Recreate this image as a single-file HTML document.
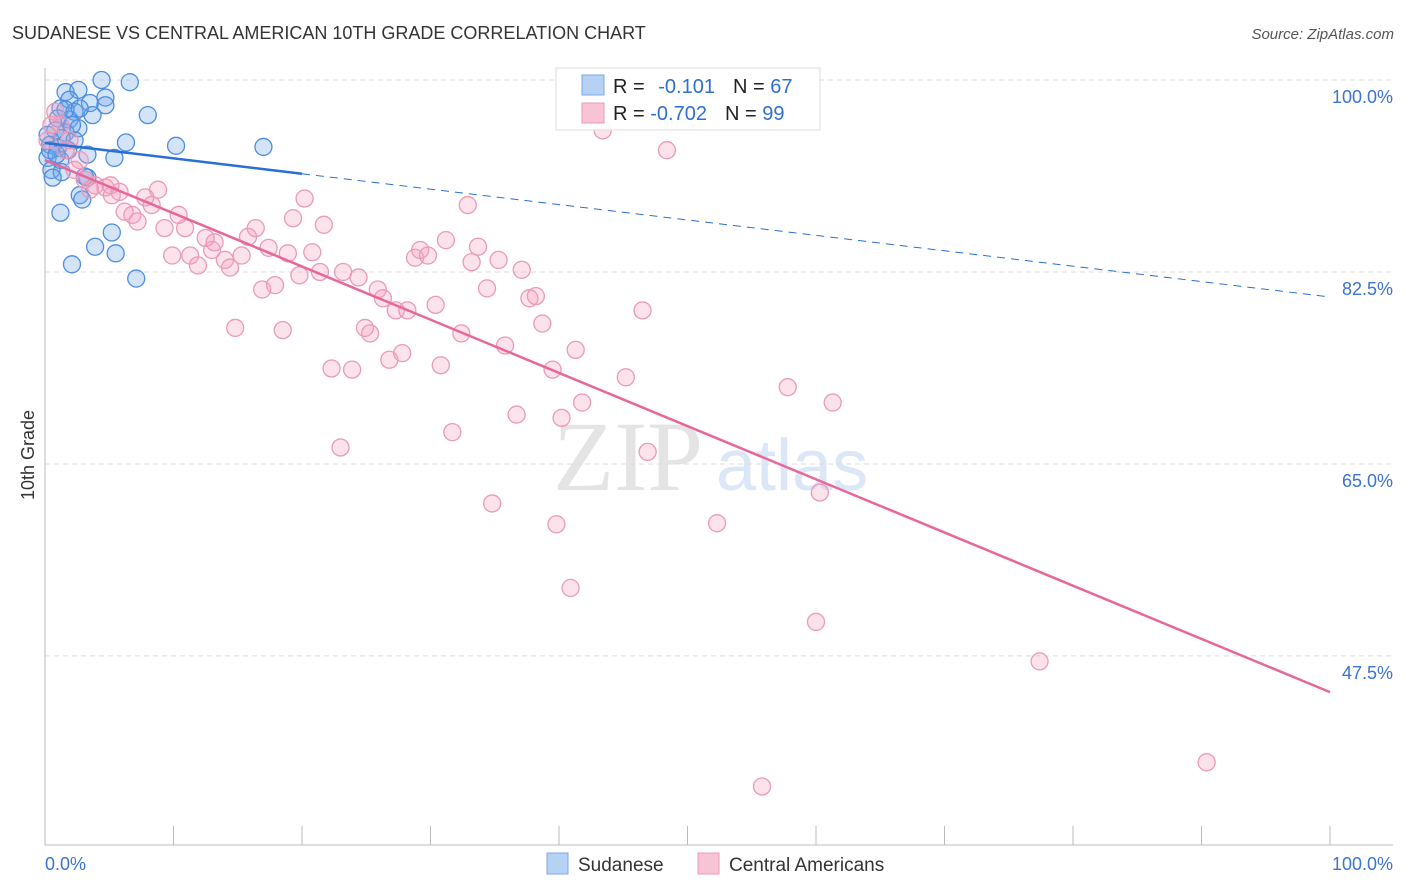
<!DOCTYPE html>
<html><head><meta charset="utf-8"><style>
body{margin:0;background:#fff;font-family:"Liberation Sans",sans-serif;}
svg{display:block}
</style></head><body>
<svg id="chart" width="1406" height="892">
<text x="12" y="39" font-size="18" fill="#333">SUDANESE VS CENTRAL AMERICAN 10TH GRADE CORRELATION CHART</text>
<text x="1394" y="39" font-size="15" fill="#555" font-style="italic" text-anchor="end">Source: ZipAtlas.com</text>
<g>
<text x="553" y="490" font-family="Liberation Serif,serif" font-size="100" fill="#e4e4e4">ZIP</text>
<text x="716" y="490" font-size="72" fill="#dbe7f6">atlas</text>
</g>
<g id="grid"></g>
<g id="axes"></g>
<g id="pts"></g>
<g id="lines"></g>
<text transform="translate(34,455) rotate(-90)" font-size="18" fill="#333" text-anchor="middle">10th Grade</text>
<g>
<rect x="556" y="68" width="264" height="62" fill="#fff" fill-opacity="0.9" stroke="#ddd"/>
<rect x="582" y="75" width="22" height="20" fill="#b5d2f5" stroke="#7aaae5"/>
<rect x="582" y="103" width="22" height="20" fill="#f8c3d4" stroke="#eb9ab6"/>
<text x="613" y="93" font-size="20" fill="#222">R = <tspan fill="#2e6fd0" dx="8">-0.101</tspan><tspan fill="#222" dx="18">N = </tspan><tspan fill="#2e6fd0">67</tspan></text>
<text x="613" y="120" font-size="20" fill="#222">R = <tspan fill="#2e6fd0">-0.702</tspan><tspan fill="#222" dx="18">N = </tspan><tspan fill="#2e6fd0">99</tspan></text>
</g>
<g>
<rect x="547" y="853" width="21" height="21" fill="#b5d2f5" stroke="#7aaae5"/>
<text x="578" y="871" font-size="19" fill="#333">Sudanese</text>
<rect x="698" y="853" width="21" height="21" fill="#f8c3d4" stroke="#eb9ab6"/>
<text x="729" y="871" font-size="19" fill="#333">Central Americans</text>
</g>
</svg>
<script>
const blueX=[4.4,6.6,1.6,2.6,4.7,1.9,3.5,1.2,2.3,4.7,3.7,8.0,1.0,1.9,2.6,.8,1.6,.2,1.3,2.3,6.3,.4,1.0,1.8,10.2,17.0,3.3,5.4,.2,1.2,.5,1.3,.6,3.3,2.7,2.9,1.2,5.2,3.9,5.5,2.1,7.1,3.1,1.6,2.7,2.1,.4,.9];
const blueY=[100,99.8,98.9,99.1,98.4,98.2,97.9,97.4,97.1,97.7,96.8,96.8,96.5,96.4,95.6,95.4,95.2,95.0,94.7,94.5,94.3,94.1,93.8,93.6,94.0,93.9,93.2,92.9,92.9,92.7,91.8,91.6,91.1,91.1,89.5,89.1,87.9,86.1,84.8,84.2,83.2,81.9,91.2,97.3,97.4,95.9,93.6,93.2];
const pinkX=[.8,1.2,1.9,2.7,2.3,3.1,3.9,4.7,5.2,5.8,6.2,6.8,7.2,7.8,8.3,8.8,9.3,9.9,10.4,10.9,11.3,11.9,12.5,13.0,13.2,14.0,14.4,14.8,15.3,15.8,16.4,16.9,17.4,17.9,18.5,18.9,19.3,19.8,20.2,20.8,21.4,21.7,22.3,23.0,23.2,23.9,24.4,24.9,25.3,25.9,26.3,26.8,27.3,27.8,28.2,28.8,29.2,29.8,30.4,30.8,31.2,31.7,32.4,32.9,33.2,33.7,34.4,34.8,35.3,35.8,36.7,37.1,37.7,38.2,38.7,39.5,39.8,40.2,40.9,41.3,41.8,43.4,45.2,46.5,46.9,48.4,52.3,57.8,60.0,60.3,61.3,77.4,90.4,55.8,.5,.2,1.6,3.5,5.1];
const pinkY=[97.1,95.9,94.5,92.7,91.8,90.9,90.4,90.2,89.5,89.8,88.0,87.7,87.1,89.3,88.6,90.0,86.5,84.0,87.7,86.5,84.0,83.1,85.6,84.5,85.2,83.6,82.9,77.4,84.0,85.7,86.5,80.9,84.7,81.3,77.2,84.2,87.4,82.2,89.2,84.3,82.5,86.8,73.7,66.5,82.5,73.6,82.0,77.4,76.9,80.9,80.1,74.5,79.0,75.1,79.0,83.8,84.5,84.0,79.5,74.0,85.4,67.9,76.9,88.6,83.4,84.8,81.0,61.4,83.6,75.8,69.5,82.7,80.1,80.3,77.8,73.6,59.5,69.2,53.7,75.4,70.6,95.4,72.9,79.0,66.1,93.6,59.6,72.0,50.6,62.4,70.6,47.0,37.8,35.6,95.9,94.5,93.6,90.0,90.4];
const blueFit=[94.26,80.22];
const pinkFit=[92.7,44.2];
const yTicks=[100,82.5,65,47.5];
const yTickLabels=["100.0%","82.5%","65.0%","47.5%"];
const xTicks=[0,10,20,30,40,50,60,70,80,90,100];
const NS="http://www.w3.org/2000/svg";
const sx=v=>45+v*12.85;
const sy=v=>80+(100-v)*10.97;
function mk(parent,tag,attrs){const e=document.createElementNS(NS,tag);for(const k in attrs)e.setAttribute(k,attrs[k]);document.getElementById(parent).appendChild(e);return e;}
yTicks.forEach((t,i)=>{
 const l=mk('grid','line',{x1:45,x2:1393,y1:sy(t),y2:sy(t),stroke:'#ddd','stroke-dasharray':'5,4'});
 
 
 const tx=mk('grid','text',{x:1393,y:sy(t)+23,'font-size':18,fill:'#3a73d0','text-anchor':'end'});
 tx.textContent=yTickLabels[i];
 
 
});
const ya=mk('axes','line',{x1:45,x2:45,y1:68,y2:845,stroke:'#bbb'});


const xa=mk('axes','line',{x1:45,x2:1393,y1:845,y2:845,stroke:'#bbb'});


xTicks.forEach(t=>{
 const l=mk('axes','line',{x1:sx(t),x2:sx(t),y1:826,y2:845,stroke:'#bbb'});
 
 
});
const x0=mk('axes','text',{x:45,y:870,'font-size':18,fill:'#3a73d0'});x0.textContent='0.0%';


const x1=mk('axes','text',{x:1393,y:870,'font-size':18,fill:'#3a73d0','text-anchor':'end'});x1.textContent='100.0%';


blueX.forEach((x,i)=>{
 const c=mk('pts','circle',{cx:sx(x),cy:sy(blueY[i]),r:8.5,fill:'rgba(110,165,235,0.3)',stroke:'#4d8de0','stroke-width':1.3});
 
 
});
pinkX.forEach((x,i)=>{
 const c=mk('pts','circle',{cx:sx(x),cy:sy(pinkY[i]),r:8.5,fill:'rgba(245,160,190,0.3)',stroke:'#ea9ab8','stroke-width':1.3});
 
 
});
const bAt=x=>blueFit[0]+(blueFit[1]-blueFit[0])*x/100;
const bl=mk('lines','line',{x1:sx(0),y1:sy(bAt(0)),x2:sx(20),y2:sy(bAt(20)),stroke:'#2a6fd2','stroke-width':2.5});


const bd=mk('lines','line',{x1:sx(20),y1:sy(bAt(20)),x2:sx(100),y2:sy(bAt(100)),stroke:'#2a6fd2','stroke-width':1,'stroke-dasharray':'8,6'});


const pl=mk('lines','line',{x1:sx(0),y1:sy(pinkFit[0]),x2:sx(100),y2:sy(pinkFit[1]),stroke:'#e8679a','stroke-width':2.5});


</script>
</body></html>
